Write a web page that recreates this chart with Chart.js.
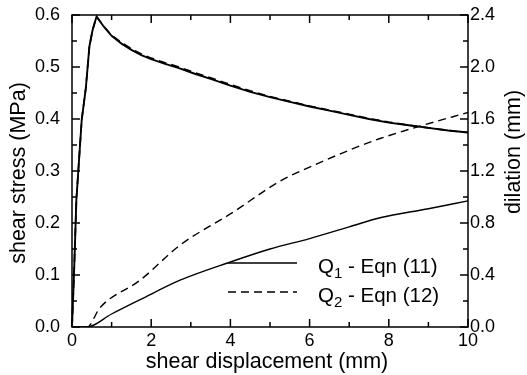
<!DOCTYPE html>
<html><head><meta charset="utf-8">
<script src="https://cdn.jsdelivr.net/npm/chart.js@4.4.1/dist/chart.umd.min.js"></script>
<style>html,body{margin:0;padding:0;background:#fff}#wrap{width:527px;height:375px}</style>
</head><body><div id="wrap"><canvas id="c" width="527" height="375"></canvas></div>
<script>
// shear displacement (mm) for stress curves
const xStress = [0, 0.05, 0.11, 0.245, 0.35, 0.44, 0.52, 0.62, 0.8, 1.0, 1.25, 1.5, 1.75, 2.0, 2.35, 2.7, 3.1, 3.5, 4.0, 4.5, 5.0, 5.5, 6.0, 6.5, 7.0, 7.5, 8.0, 8.5, 9.0, 9.5, 10];
const stressQ1 = [0, 0.1, 0.244, 0.398, 0.46, 0.54, 0.571, 0.597, 0.578, 0.560, 0.545, 0.533, 0.523, 0.515, 0.506, 0.498, 0.487, 0.477, 0.464, 0.452, 0.442, 0.433, 0.424, 0.416, 0.408, 0.400, 0.393, 0.388, 0.383, 0.378, 0.374];
const stressQ2 = [0, 0.1, 0.244, 0.398, 0.46, 0.54, 0.571, 0.597, 0.578, 0.561, 0.547, 0.535, 0.525, 0.517, 0.508, 0.500, 0.489, 0.479, 0.466, 0.454, 0.443, 0.434, 0.425, 0.417, 0.409, 0.401, 0.394, 0.388, 0.383, 0.378, 0.374];
// dilation curves (mm)
const xDilQ1 = [0, 0.38, 1.0, 1.72, 2.73, 4.0, 5.0, 6.0, 7.0, 7.78, 9.0, 10];
const dilQ1 = [0, 0, 0.1, 0.21, 0.36, 0.5, 0.6, 0.68, 0.77, 0.84, 0.91, 0.97];
const xDilQ2 = [0, 0.38, 0.71, 1.72, 2.73, 4.0, 5.3, 6.0, 7.0, 7.78, 8.84, 10];
const dilQ2 = [0, 0, 0.15, 0.36, 0.63, 0.87, 1.13, 1.23, 1.36, 1.45, 1.55, 1.65];

const xTicks = [0, 2, 4, 6, 8, 10];
const xLabel = 'shear displacement (mm)';
const yLabel = 'shear stress (MPa)';
const y2Label = 'dilation (mm)';
const legendLabels = [['Q', '1', ' - Eqn (11)'], ['Q', '2', ' - Eqn (12)']];

const FONT = '"Liberation Sans", Arial, sans-serif';
const pts = (xs, ys) => xs.map((x, i) => ({x: x, y: ys[i]}));

const decor = {
  id: 'decor',
  afterDraw(chart) {
    const ctx = chart.ctx, a = chart.chartArea;
    const sx = chart.scales.x, sy = chart.scales.y, sy2 = chart.scales.y2;
    ctx.save();
    ctx.setLineDash([]);
    ctx.strokeStyle = '#000'; ctx.fillStyle = '#000'; ctx.lineWidth = 1.5;
    ctx.strokeRect(a.left, a.top, a.right - a.left, a.bottom - a.top);
    const W = 1.5;
    for (let v = 0; v <= 10; v += 1) {
      const px = sx.getPixelForValue(v), L = (v % 2 === 0) ? 8 : 5;
      ctx.fillRect(px - W / 2, a.bottom - L, W, L);
      ctx.fillRect(px - W / 2, a.top, W, L);
    }
    for (let i = 0; i <= 12; i++) {
      const py = sy.getPixelForValue(i * 0.05), L = (i % 2 === 0) ? 8 : 5;
      ctx.fillRect(a.left, py - W / 2, L, W);
      const py2 = sy2.getPixelForValue(i * 0.2);
      ctx.fillRect(a.right - L, py2 - W / 2, L, W);
    }
    // titles
    ctx.font = '21.5px ' + FONT;
    ctx.textAlign = 'center'; ctx.textBaseline = 'middle';
    ctx.fillText(xLabel, (a.left + a.right) / 2 - 3, 362);
    ctx.save(); ctx.translate(19, (a.top + a.bottom) / 2 + 2); ctx.rotate(-Math.PI / 2);
    ctx.fillText(yLabel, 0, 0); ctx.restore();
    ctx.save(); ctx.translate(514, 152); ctx.rotate(-Math.PI / 2);
    ctx.fillText(y2Label, 0, 0); ctx.restore();
    // legend
    const rows = [263, 292];
    ctx.lineWidth = 1.4;
    rows.forEach((y, i) => {
      ctx.setLineDash(i === 0 ? [] : [8, 5]);
      ctx.beginPath(); ctx.moveTo(228, y); ctx.lineTo(297, y); ctx.stroke();
      ctx.setLineDash([]);
      ctx.textAlign = 'left'; ctx.textBaseline = 'alphabetic';
      let x = 318;
      const base = y + 10;
      ctx.font = '20.5px ' + FONT;
      ctx.fillText(legendLabels[i][0], x, base); x += ctx.measureText(legendLabels[i][0]).width;
      ctx.font = '15px ' + FONT;
      ctx.fillText(legendLabels[i][1], x, base + 5); x += ctx.measureText(legendLabels[i][1]).width;
      ctx.font = '20.5px ' + FONT;
      ctx.fillText(legendLabels[i][2], x, base);
    });
    ctx.restore();
  }
};

new Chart(document.getElementById('c'), {
  type: 'line',
  data: {
    datasets: [
      {label: 'Q1 stress', data: pts(xStress, stressQ1), yAxisID: 'y', borderColor: '#000', borderWidth: 1.9, pointRadius: 0, tension: 0, fill: false, clip: false},
      {label: 'Q2 stress', data: pts(xStress, stressQ2), yAxisID: 'y', borderColor: '#000', borderWidth: 1.7, borderDash: [8, 5], pointRadius: 0, tension: 0, fill: false, clip: false},
      {label: 'Q1 dilation', data: pts(xDilQ1, dilQ1), yAxisID: 'y2', borderColor: '#000', borderWidth: 1.4, pointRadius: 0, cubicInterpolationMode: 'monotone', fill: false},
      {label: 'Q2 dilation', data: pts(xDilQ2, dilQ2), yAxisID: 'y2', borderColor: '#000', borderWidth: 1.4, borderDash: [8, 5], pointRadius: 0, cubicInterpolationMode: 'monotone', fill: false}
    ]
  },
  options: {
    responsive: false, animation: false, devicePixelRatio: 1,
    layout: {padding: {top: 15, left: 0, right: 0, bottom: 0}},
    plugins: {legend: {display: false}, tooltip: {enabled: false}},
    scales: {
      x: {
        type: 'linear', min: 0, max: 10,
        afterBuildTicks: s => { s.ticks = xTicks.map(v => ({value: v})); },
        afterFit: s => { s.height = 48; s.paddingLeft = 0; s.paddingRight = 0; },
        grid: {display: false, drawTicks: false}, border: {display: false},
        ticks: {color: '#000', font: {family: FONT, size: 18}, padding: 3, maxRotation: 0, callback: v => String(v)}
      },
      y: {
        position: 'left', min: 0, max: 0.6,
        afterFit: s => { s.width = 72; s.paddingTop = 0; s.paddingBottom = 0; },
        grid: {display: false, drawTicks: false}, border: {display: false},
        ticks: {color: '#000', font: {family: FONT, size: 18}, padding: 12, stepSize: 0.1, callback: v => Number(v).toFixed(1)}
      },
      y2: {
        position: 'right', min: 0, max: 2.4,
        afterFit: s => { s.width = 59; s.paddingTop = 0; s.paddingBottom = 0; },
        grid: {display: false, drawTicks: false}, border: {display: false},
        ticks: {color: '#000', font: {family: FONT, size: 18}, padding: 2, stepSize: 0.4, callback: v => Number(v).toFixed(1)}
      }
    }
  },
  plugins: [decor]
});
</script></body></html>
